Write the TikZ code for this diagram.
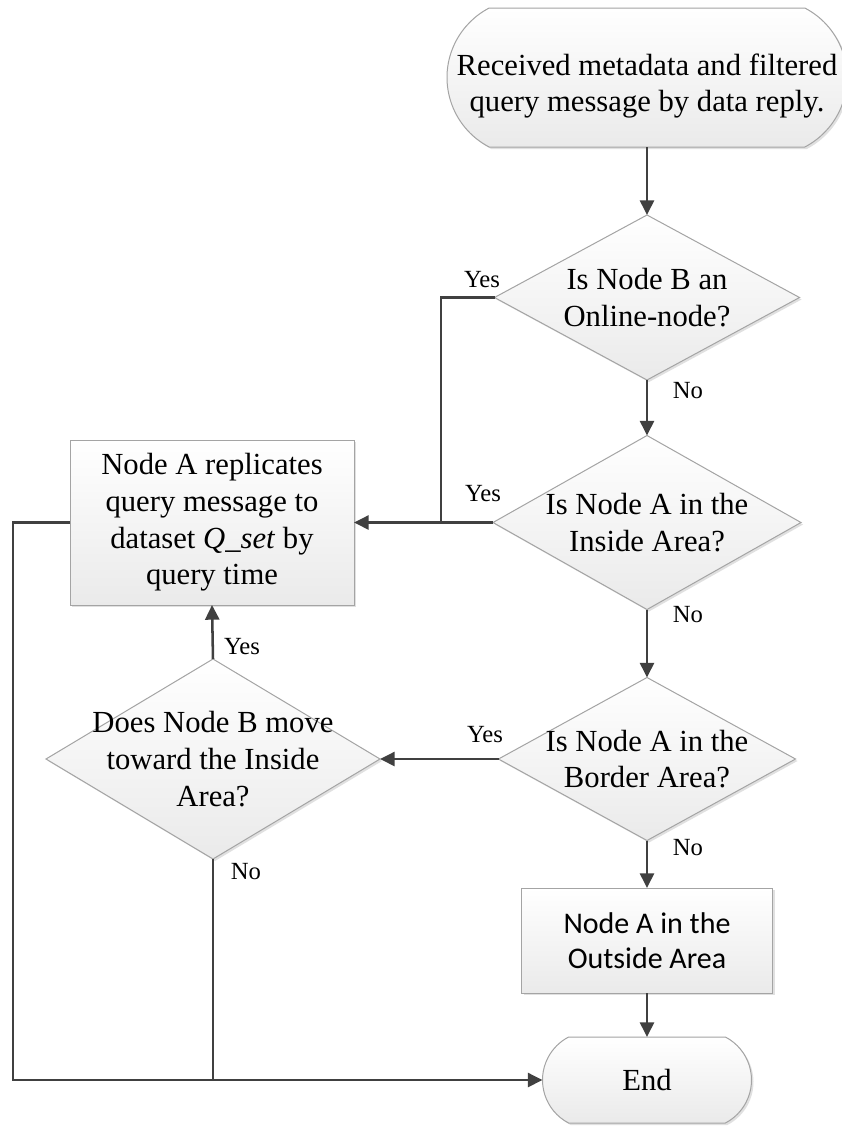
\documentclass[tikz,border=0pt]{standalone}
\usepackage{fontspec}
\setmainfont{Liberation Serif}
\newfontfamily\calib{Carlito}
\usetikzlibrary{shapes.geometric,shapes.misc,arrows.meta,shadows}
\definecolor{lnc}{HTML}{404040}
\definecolor{bdc}{HTML}{A4A4A4}
\definecolor{fbot}{HTML}{EAEAEA}
\tikzset{
  shp/.style={draw=bdc, line width=0.75pt, top color=white, bottom color=fbot,
    drop shadow={shadow xshift=1.5pt, shadow yshift=-1.5pt, fill=black!30, opacity=0.4},
    inner sep=0pt, outer sep=0pt},
  term/.style={shp, rounded rectangle, rounded rectangle arc length=125},
  dec/.style={shp, diamond},
  proc/.style={shp, rectangle, align=center},
  txt/.style={align=center, font=\fontsize{23}{27.5}\selectfont, inner sep=0pt},
  lbl/.style={font=\fontsize{18.5}{21}\selectfont, inner sep=0pt},
  conn/.style={draw=lnc, line width=1.9pt},
  arr/.style={conn, -{Triangle[length=11pt,width=10.5pt]}}
}
\begin{document}
\begin{tikzpicture}[x=0.75pt,y=-0.75pt]
\useasboundingbox (0,0) rectangle (842,1140);
\fill[white] (0,0) rectangle (842,1140);

% shapes
\node[term, minimum width=300pt, minimum height=104.25pt] (start) at (647,77.5) {};
\node[txt] (tstart) at (647,86) {Received metadata and filtered\\query message by data reply.};

\node[dec, minimum width=228.75pt, minimum height=123.75pt] (d1) at (647,297.5) {};
\node[txt] (td1) at (d1) {Is Node B an\\Online-node?};

\node[dec, minimum width=231pt, minimum height=130.5pt] (d2) at (647,522.5) {};
\node[txt] (td2) at (d2) {Is Node A in the\\Inside Area?};

\node[dec, minimum width=222.75pt, minimum height=122.25pt] (d3) at (647,759) {};
\node[txt] (td3) at (d3) {Is Node A in the\\Border Area?};

\node[dec, minimum width=250.5pt, minimum height=150pt] (d4) at (213,759) {};
\node[txt] (td4) at (d4) {Does Node B move\\toward the Inside\\Area?};

\node[proc, txt, minimum width=213pt, minimum height=123.75pt] (box1) at (212,522.5)
  {Node A replicates\\query message to\\dataset \textit{Q\_set} by\\query time};

\node[proc, minimum width=188.25pt, minimum height=78.75pt,
  font=\calib\fontsize{22.5}{26.5}\selectfont] (box2) at (647,940.5)
  {Node A in the\\Outside Area};

\node[term, minimum width=156.75pt, minimum height=64.5pt] (end) at (647,1080) {};
\node[txt] (tend) at (end) {End};

% junction coordinates
\coordinate (j1) at (441,522.5);
\coordinate (c1) at (13,522.5);

% connectors
\draw[arr] (start.south) -- (d1.north);
\draw[arr] (d1.south) -- (d2.north);
\draw[arr] (d2.south) -- (d3.north);
\draw[arr] (d3.south) -- (box2.north);
\draw[arr] (box2.south) -- (end.north);
\draw[conn] (d1.west) -| (j1);
\draw[arr] (d2.west) -- (box1.east);
\draw[arr] (d3.west) -- (d4.east);
\draw[arr] (d4.north) -- (box1.south);
\draw[arr] (box1.west) -- (c1) |- (end.west);
\draw[conn] (d4.south) -- (d4.south |- end.west);

% labels
\node[lbl] (y1) at (482,280) {Yes};
\node[lbl] (y2) at (483,494) {Yes};
\node[lbl] (n1) at (688,391) {No};
\node[lbl] (n2) at (688,615) {No};
\node[lbl] (y3) at (485,735) {Yes};
\node[lbl] (n3) at (688,848) {No};
\node[lbl] (y4) at (242,647) {Yes};
\node[lbl] (n4) at (246,872) {No};
\end{tikzpicture}
\end{document}
